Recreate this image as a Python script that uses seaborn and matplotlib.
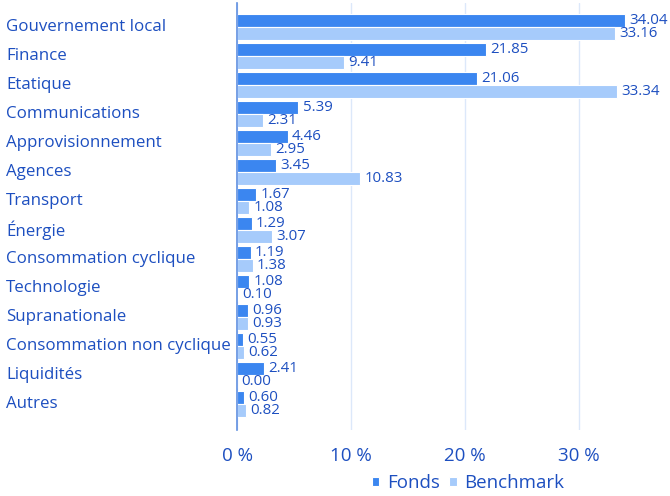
import pandas as pd
import matplotlib.pyplot as plt
import matplotlib.transforms as mtransforms
import seaborn as sns

categories = ['Gouvernement local', 'Finance', 'Etatique', 'Communications',
              'Approvisionnement', 'Agences', 'Transport', 'Énergie',
              'Consommation cyclique', 'Technologie', 'Supranationale',
              'Consommation non cyclique', 'Liquidités', 'Autres']
fonds = [34.04, 21.85, 21.06, 5.39, 4.46, 3.45, 1.67, 1.29, 1.19, 1.08, 0.96, 0.55, 2.41, 0.60]
benchmark = [33.16, 9.41, 33.34, 2.31, 2.95, 10.83, 1.08, 3.07, 1.38, 0.10, 0.93, 0.62, 0.00, 0.82]
series = ['Fonds', 'Benchmark']

df = pd.DataFrame({
    'Secteur': categories * 2,
    'Valeur': fonds + benchmark,
    'Serie': [series[0]] * len(categories) + [series[1]] * len(categories),
})

text_col = '#1d4fc0'
sns.set_style('white')
plt.rcParams['font.family'] = ['Open Sans', 'DejaVu Sans']

fig, ax = plt.subplots(figsize=(6.7, 4.96), dpi=100)
sns.barplot(data=df, y='Secteur', x='Valeur', hue='Serie', orient='h',
            palette=['#3b86f0', '#a6cbfb'], saturation=1, width=0.9,
            edgecolor='white', linewidth=0.8, ax=ax, legend=True)

for cont in ax.containers:
    ax.bar_label(cont, fmt='%.2f', padding=3, fontsize=10.8, color=text_col)

ax.set_xlim(0, 38)
ax.set_ylim(13.9, -0.83)
ax.set_xticks([0, 10, 20, 30])
ax.set_xticklabels(['0 %', '10 %', '20 %', '30 %'])
ax.set_xlabel('')
ax.set_ylabel('')
ax.set_yticklabels([])
ax.grid(axis='x', color='#dce8fa', linewidth=1)
ax.set_axisbelow(True)
for s in ['top', 'right', 'bottom']:
    ax.spines[s].set_visible(False)
ax.spines['left'].set_color('#5f8fe0')
ax.spines['left'].set_linewidth(1.2)
ax.tick_params(axis='x', length=0, labelsize=13.5, labelcolor=text_col, pad=12)
ax.tick_params(axis='y', length=0)

# category names, left aligned at the figure edge
trans = mtransforms.blended_transform_factory(fig.transFigure, ax.transData)
for i, name in enumerate(categories):
    ax.text(6 / 670, i, name, transform=trans, ha='left', va='center',
            fontsize=12.2, color=text_col)

handles, labels = ax.get_legend_handles_labels()
fig.legend(handles, labels, loc='center', bbox_to_anchor=(468 / 670, 1 - 483 / 496),
           ncol=2, frameon=False, fontsize=13.5, labelcolor=text_col,
           handlelength=0.4, handleheight=0.4, handletextpad=0.4,
           columnspacing=0.5)
ax.get_legend().remove()

plt.subplots_adjust(left=237 / 670, right=1.0, top=1 - 3 / 496, bottom=1 - 430 / 496)
plt.savefig('out.png', dpi=100)
